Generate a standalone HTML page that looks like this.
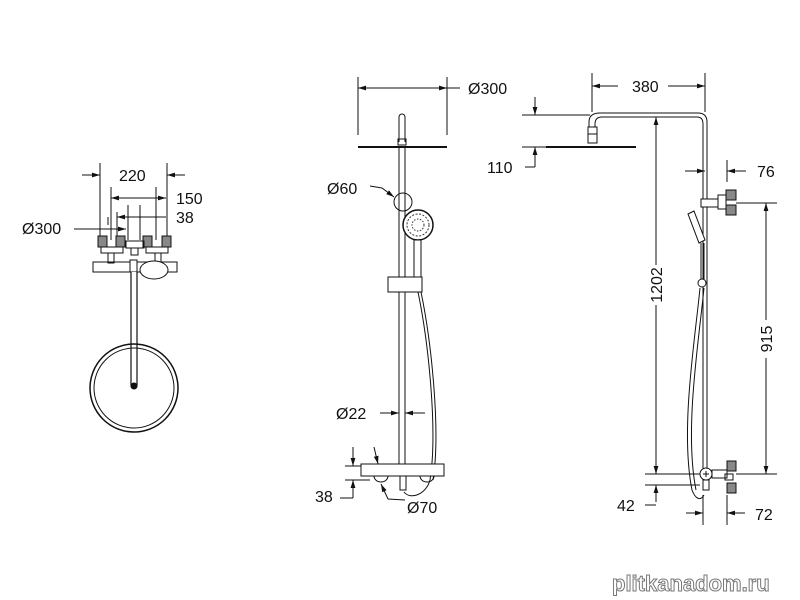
<!DOCTYPE html>
<html><head><meta charset="utf-8"><style>
html,body{margin:0;padding:0;background:#fff}
svg{display:block}
text{font-family:"Liberation Sans",Arial,sans-serif;font-size:16px;fill:#111}
</style></head><body>
<svg width="800" height="600" viewBox="0 0 800 600" xmlns="http://www.w3.org/2000/svg">
<defs>
<marker id="a" viewBox="0 0 10 6" refX="10" refY="3" markerWidth="8" markerHeight="5" orient="auto-start-reverse"><path d="M0,0 L10,3 L0,6z" fill="#111"/></marker>
</defs>
<g stroke="#111" stroke-width="1" fill="none">
<!-- LEFT VIEW -->
<line x1="100" y1="163" x2="100" y2="240"/><line x1="167" y1="163" x2="167" y2="240"/>
<line x1="82" y1="175" x2="100" y2="175" marker-end="url(#a)"/>
<line x1="185" y1="175" x2="167" y2="175" marker-end="url(#a)"/>
<line x1="111" y1="187" x2="111" y2="240"/><line x1="156" y1="187" x2="156" y2="240"/>
<line x1="111" y1="198" x2="166" y2="198" marker-start="url(#a)" marker-end="url(#a)"/>
<line x1="108" y1="217" x2="108" y2="225"/><line x1="117" y1="212" x2="117" y2="240"/><line x1="128" y1="205" x2="128" y2="240"/><line x1="140" y1="205" x2="140" y2="240"/>
<line x1="117" y1="217" x2="166" y2="217" marker-start="url(#a)"/>
<line x1="74" y1="229" x2="126" y2="229" marker-end="url(#a)"/>
<rect x="98" y="236" width="9" height="11" fill="#888"/><rect x="116" y="236" width="9" height="11" fill="#888"/>
<rect x="143" y="236" width="9" height="11" fill="#888"/><rect x="162" y="236" width="9" height="11" fill="#888"/>
<rect x="101" y="247" width="22" height="6"/><rect x="146" y="247" width="22" height="6"/>
<rect x="126" y="241" width="18" height="7"/><rect x="131" y="248" width="7" height="7"/>
<rect x="108" y="253" width="6" height="10"/><rect x="155" y="253" width="6" height="10"/>
<rect x="93" y="262" width="84" height="10"/>
<ellipse cx="154" cy="270" rx="14" ry="9" fill="#fff"/>
<rect x="130" y="260" width="7" height="12" fill="#fff"/>
<path d="M131,272 V385 a3,3 0 0 0 6,0 V272" stroke-width="1.2" fill="#fff"/>
<circle cx="134" cy="388" r="44" stroke-width="1.5"/><circle cx="134" cy="388" r="40"/>
<circle cx="134" cy="386" r="3" fill="#111"/>

<!-- MIDDLE VIEW -->
<line x1="358" y1="77" x2="358" y2="135"/><line x1="447" y1="77" x2="447" y2="135"/>
<line x1="358" y1="88" x2="447" y2="88" marker-start="url(#a)" marker-end="url(#a)"/>
<line x1="447" y1="88" x2="460" y2="88"/>
<path d="M399,142 V117 a3,3 0 0 1 6,0 V142"/>
<rect x="398" y="139" width="8" height="6"/>
<line x1="358" y1="147" x2="447" y2="147" stroke-width="2"/>
<line x1="399" y1="147" x2="399" y2="465"/><line x1="405" y1="147" x2="405" y2="465"/>
<circle cx="403" cy="202" r="9"/>
<path d="M370,186 L382,188 L394,197" marker-end="url(#a)"/>
<circle cx="418" cy="225" r="15" fill="#fff" stroke-width="1.5"/>
<circle cx="418" cy="225" r="11" stroke="#333" stroke-dasharray="2 1.5"/>
<circle cx="418" cy="225" r="6" stroke="#333" stroke-dasharray="1.5 1.5"/>
<rect x="414" y="240" width="7" height="38" fill="#fff"/>
<rect x="388" y="277" width="34" height="15" fill="#fff"/>
<path d="M418,292 C428,340 438,430 430,480 C426,495 410,500 404,492"/>
<path d="M421,292 C431,340 441,430 433,480"/>
<line x1="380" y1="413" x2="399" y2="413" marker-end="url(#a)"/>
<line x1="425" y1="413" x2="405" y2="413" marker-end="url(#a)"/>
<rect x="361" y="464" width="83" height="12" fill="#fff"/>
<path d="M374,476 a7,6 0 0 0 14,0"/><path d="M420,476 a7,6 0 0 0 14,0"/>
<rect x="400" y="476" width="6" height="14"/>
<line x1="345" y1="466" x2="361" y2="466"/><line x1="345" y1="480" x2="370" y2="480"/>
<line x1="353" y1="447" x2="353" y2="466" marker-end="url(#a)"/>
<line x1="353" y1="498" x2="353" y2="480" marker-end="url(#a)"/>
<line x1="340" y1="498" x2="353" y2="498"/>
<line x1="374" y1="447" x2="378" y2="464" marker-end="url(#a)"/>
<path d="M405,500 L388,499 L381,484" marker-end="url(#a)"/>

<!-- RIGHT VIEW -->
<line x1="592" y1="73" x2="592" y2="112"/><line x1="705" y1="73" x2="705" y2="112"/>
<line x1="592" y1="86" x2="618" y2="86" marker-start="url(#a)"/>
<line x1="668" y1="86" x2="705" y2="86" marker-end="url(#a)"/>
<path d="M589,127 V122 Q589,113 600,113 H698 Q707,113 707,122 V470"/>
<path d="M595,127 V124 Q595,117 602,117 H697 Q703,117 703,124 V470"/>
<rect x="588" y="127" width="9" height="7"/><rect x="588" y="134" width="9" height="9"/>
<line x1="546" y1="147" x2="636" y2="147" stroke-width="2"/>
<line x1="522" y1="115" x2="590" y2="115"/><line x1="522" y1="147" x2="546" y2="147"/>
<line x1="535" y1="97" x2="535" y2="115" marker-end="url(#a)"/>
<line x1="535" y1="167" x2="535" y2="147" marker-end="url(#a)"/>
<line x1="525" y1="167" x2="535" y2="167"/>
<line x1="656" y1="117" x2="656" y2="265" marker-start="url(#a)"/>
<line x1="656" y1="305" x2="656" y2="474" marker-end="url(#a)"/>
<line x1="727" y1="160" x2="727" y2="182"/>
<line x1="685" y1="171" x2="705" y2="171" marker-end="url(#a)"/>
<line x1="746" y1="171" x2="727" y2="171" marker-end="url(#a)"/>
<rect x="701" y="199" width="17" height="8" fill="#fff"/>
<rect x="718" y="195" width="8" height="14" fill="#fff"/>
<rect x="726" y="190" width="10" height="10" fill="#888"/><rect x="726" y="205" width="10" height="10" fill="#888"/>
<line x1="736" y1="203" x2="777" y2="203"/>
<line x1="766" y1="203" x2="766" y2="320" marker-start="url(#a)"/>
<line x1="766" y1="358" x2="766" y2="474" marker-end="url(#a)"/>
<path d="M688,214 L694,211 L705,240 L699,243z" fill="#fff"/>
<line x1="701" y1="243" x2="701" y2="280"/><line x1="704" y1="243" x2="704" y2="280"/>
<circle cx="702" cy="283" r="4" fill="#fff"/>
<path d="M700,288 C695,340 680,430 692,490 C695,498 700,502 704,495"/>
<path d="M704,288 C699,340 684,430 696,490"/>
<circle cx="706" cy="474" r="6" fill="#fff"/>
<line x1="703" y1="474" x2="709" y2="474"/><line x1="706" y1="471" x2="706" y2="477"/>
<rect x="712" y="470" width="15" height="8" fill="#fff"/>
<rect x="727" y="461" width="9" height="10" fill="#888"/><rect x="727" y="483" width="9" height="10" fill="#888"/>
<rect x="725" y="474" width="8" height="6"/>
<rect x="703" y="480" width="6" height="10"/>
<line x1="736" y1="474" x2="777" y2="474"/>
<line x1="645" y1="474" x2="700" y2="474"/><line x1="645" y1="485" x2="700" y2="485"/>
<line x1="656" y1="502" x2="656" y2="485" marker-end="url(#a)"/>
<line x1="645" y1="505" x2="656" y2="505"/>
<line x1="703" y1="495" x2="703" y2="525"/><line x1="727" y1="495" x2="727" y2="525"/>
<line x1="686" y1="513" x2="703" y2="513" marker-end="url(#a)"/>
<line x1="745" y1="513" x2="727" y2="513" marker-end="url(#a)"/>
</g>
<text x="119" y="181">220</text>
<text x="176" y="204">150</text>
<text x="176" y="223">38</text>
<text x="22" y="234">Ø300</text>
<text x="468" y="94">Ø300</text>
<text x="327" y="194">Ø60</text>
<text x="336" y="419">Ø22</text>
<text x="315" y="502">38</text>
<text x="407" y="513">Ø70</text>
<text x="632" y="92">380</text>
<text x="487" y="173">110</text>
<text x="757" y="177">76</text>
<text x="617" y="511">42</text>
<text x="755" y="520">72</text>
<text transform="translate(662,285) rotate(-90)" text-anchor="middle">1202</text>
<text transform="translate(772,339) rotate(-90)" text-anchor="middle">915</text>
<text x="612" y="591" style="font-size:22px;font-weight:bold;fill:#fff;stroke:#777;stroke-width:1">plitkanadom.ru</text>
</svg>
</body></html>
